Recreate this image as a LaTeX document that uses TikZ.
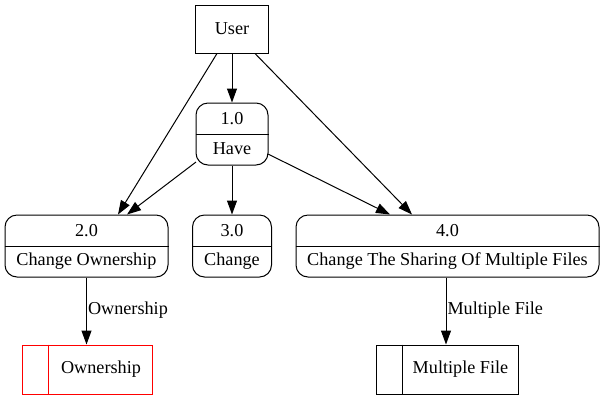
\documentclass[tikz,border=0pt]{standalone}
\usepackage{fontspec}
\setmainfont{Liberation Serif}
\usetikzlibrary{arrows.meta}
\begin{document}
\begin{tikzpicture}[x=1pt,y=-1pt,line width=1pt,
  every node/.style={font=\fontsize{18.2}{22}\selectfont, inner sep=0pt},
  proc/.style={draw, rectangle, rounded corners=12pt},
  ent/.style={draw, rectangle},
  store/.style={draw=red, rectangle},
  store2/.style={draw, rectangle},
  arr/.style={-{Triangle[length=14pt,width=10pt]}},
  lbl/.style={anchor=west}]
\useasboundingbox (0,0) rectangle (604,400);
\node[ent, minimum width=73pt, minimum height=48pt] (user) at (232,29) {User};
\node[proc, minimum width=72pt, minimum height=62pt] (p1) at (232,134) {};
\node[proc, minimum width=163pt, minimum height=62pt] (p2) at (86.5,246) {};
\node[proc, minimum width=79pt, minimum height=62pt] (p3) at (232,246) {};
\node[proc, minimum width=303pt, minimum height=62pt] (p4) at (447.5,246) {};
\foreach \n/\a/\b in {p1/1.0/Have, p2/2.0/Change Ownership, p3/3.0/Change, p4/4.0/Change The Sharing Of Multiple Files}{
  \draw (\n.west) -- (\n.east);
  \node at ([yshift=15pt]\n.center) {\a};
  \node at ([yshift=-15pt]\n.center) {\b};
}
\node[store, minimum width=130pt, minimum height=49pt] (s1) at (87,369.5) {};
\draw[red] ([xshift=27]s1.north west) -- ([xshift=27]s1.south west);
\node at (101,369.5) {Ownership};
\node[store2, minimum width=142pt, minimum height=49pt] (s2) at (447,369.5) {};
\draw ([xshift=27]s2.north west) -- ([xshift=27]s2.south west);
\node at (460.5,369.5) {Multiple File};
\draw[arr] (user.south) -- (p1.north);
\draw[arr] ([xshift=-15]user.south) -- ([xshift=31.5]p2.north);
\draw[arr] ([xshift=23]user.south) -- ([xshift=-35.5]p4.north);
\draw[arr] ([shift={(-36,28)}]p1.center) -- ([xshift=40.5]p2.north);
\draw[arr] (p1.south) -- (p3.north);
\draw[arr] ([shift={(36,20)}]p1.center) -- ([xshift=-57.5]p4.north);
\draw[arr] (p2.south) -- node[lbl, pos=0.48, xshift=1pt] {Ownership} (p2.south |- s1.north);
\draw[arr] ([xshift=-1.5]p4.south) -- node[lbl, pos=0.48, xshift=1pt] {Multiple File} ([xshift=-1.5]p4.south |- s2.north);
\end{tikzpicture}
\end{document}
